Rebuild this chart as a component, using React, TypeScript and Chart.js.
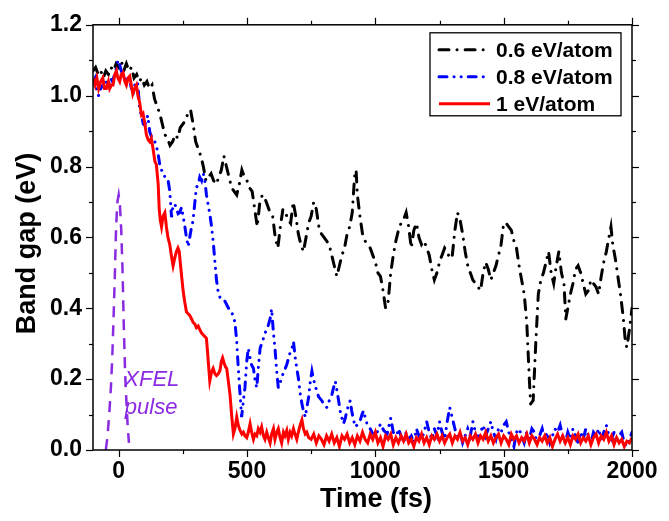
import React, { useEffect, useRef } from 'react';
import { Chart, registerables } from 'chart.js';

Chart.register(...registerables);

const xTicks = [0, 500, 1000, 1500, 2000];
const xTickLabels = ['0', '500', '1000', '1500', '2000'];
const xMinorTicks = [250, 750, 1250, 1750];
const yTicks = [0, 0.2, 0.4, 0.6, 0.8, 1.0, 1.2];
const yTickLabels = ['0.0', '0.2', '0.4', '0.6', '0.8', '1.0', '1.2'];
const yMinorTicks = [0.1, 0.3, 0.5, 0.7, 0.9, 1.1];

const xTitle = 'Time (fs)';
const yTitle = 'Band gap (eV)';
const seriesLabels = ['0.6 eV/atom', '0.8 eV/atom', '1 eV/atom'];
const pulseLabel = ['XFEL', 'pulse'];

// [time (fs), band gap (eV)]
const blackSeries = [
  [-100, 1.07], [-90, 1.08], [-80, 1.06], [-70, 1.07], [-60, 1.05], [-50, 1.07], [-40, 1.06], [-30, 1.08],
  [-20, 1.07], [-10, 1.09], [0, 1.08], [10, 1.1], [20, 1.07], [30, 1.09], [40, 1.07], [50, 1.08], [60, 1.05],
  [70, 1.06], [80, 1.04], [90, 1.05], [100, 1.03], [110, 1.04], [120, 1.02], [130, 1.03], [140, 0.99],
  [150, 0.97], [160, 0.95], [170, 0.92], [180, 0.89], [190, 0.88], [200, 0.86], [210, 0.87], [220, 0.89],
  [230, 0.88], [240, 0.91], [250, 0.92], [260, 0.93], [270, 0.95], [280, 0.96], [290, 0.92], [300, 0.87],
  [310, 0.85], [320, 0.83], [330, 0.8], [340, 0.76], [350, 0.77], [360, 0.78], [370, 0.76], [380, 0.75],
  [390, 0.77], [400, 0.79], [410, 0.83], [420, 0.8], [430, 0.77], [440, 0.74], [450, 0.73], [460, 0.72],
  [470, 0.75], [480, 0.79], [490, 0.77], [500, 0.76], [510, 0.74], [520, 0.73], [530, 0.68], [540, 0.63],
  [550, 0.7], [560, 0.72], [570, 0.71], [580, 0.69], [590, 0.67], [600, 0.66], [610, 0.6], [620, 0.57],
  [630, 0.63], [640, 0.68], [650, 0.67], [660, 0.65], [670, 0.64], [680, 0.7], [690, 0.66], [700, 0.61],
  [710, 0.58], [720, 0.56], [730, 0.6], [740, 0.64], [750, 0.66], [760, 0.7], [770, 0.68], [780, 0.63],
  [790, 0.61], [800, 0.6], [810, 0.59], [820, 0.58], [830, 0.55], [840, 0.52], [850, 0.49], [860, 0.52],
  [870, 0.55], [880, 0.57], [890, 0.61], [900, 0.63], [910, 0.67], [920, 0.78], [925, 0.79], [930, 0.72],
  [940, 0.66], [950, 0.61], [960, 0.59], [970, 0.58], [980, 0.57], [990, 0.55], [1000, 0.53], [1010, 0.5],
  [1020, 0.49], [1030, 0.45], [1040, 0.4], [1050, 0.42], [1060, 0.5], [1070, 0.55], [1080, 0.59], [1090, 0.62],
  [1100, 0.64], [1110, 0.65], [1120, 0.67], [1130, 0.63], [1140, 0.57], [1150, 0.62], [1160, 0.64], [1170, 0.6],
  [1180, 0.58], [1190, 0.59], [1200, 0.57], [1210, 0.55], [1220, 0.51], [1230, 0.48], [1240, 0.5], [1250, 0.53],
  [1260, 0.55], [1270, 0.57], [1280, 0.56], [1290, 0.54], [1300, 0.55], [1310, 0.62], [1320, 0.67], [1330, 0.65],
  [1340, 0.61], [1350, 0.56], [1360, 0.52], [1370, 0.5], [1380, 0.48], [1390, 0.47], [1400, 0.46], [1410, 0.45],
  [1420, 0.5], [1430, 0.53], [1440, 0.51], [1450, 0.48], [1460, 0.5], [1470, 0.52], [1480, 0.55], [1490, 0.58],
  [1500, 0.64], [1510, 0.64], [1520, 0.63], [1530, 0.62], [1540, 0.59], [1550, 0.57], [1560, 0.52], [1570, 0.48],
  [1580, 0.44], [1590, 0.36], [1600, 0.2], [1605, 0.13], [1615, 0.14], [1625, 0.3], [1635, 0.44], [1645, 0.48],
  [1655, 0.5], [1665, 0.53], [1675, 0.56], [1685, 0.5], [1695, 0.47], [1705, 0.52], [1715, 0.56], [1725, 0.5],
  [1735, 0.47], [1742, 0.37], [1750, 0.4], [1760, 0.44], [1770, 0.47], [1780, 0.51], [1790, 0.52], [1800, 0.5],
  [1810, 0.47], [1820, 0.44], [1830, 0.45], [1840, 0.48], [1850, 0.47], [1860, 0.46], [1870, 0.44], [1880, 0.49],
  [1890, 0.53], [1900, 0.56], [1910, 0.6], [1918, 0.63], [1925, 0.58], [1935, 0.54], [1945, 0.49], [1955, 0.44],
  [1965, 0.38], [1975, 0.3], [1980, 0.29], [1990, 0.34], [2000, 0.4],
];

const blueSeries = [
  [-100, 1.04], [-92, 1.05], [-85, 1.01], [-78, 1.0], [-70, 1.02], [-62, 1.03], [-55, 1.02], [-48, 1.04],
  [-40, 1.03], [-32, 1.05], [-24, 1.04], [-16, 1.06], [-8, 1.08], [-3, 1.1], [3, 1.09], [10, 1.07], [17, 1.06],
  [24, 1.05], [30, 1.04], [37, 1.05], [43, 1.04], [50, 1.02], [57, 1.01], [63, 1.03], [69, 1.04], [74, 1.037],
  [82, 0.963], [90, 0.94], [96, 0.92], [102, 0.917], [108, 0.93], [113, 0.944], [121, 0.898], [130, 0.88],
  [141, 0.87], [152, 0.843], [160, 0.806], [166, 0.79], [173, 0.787], [180, 0.77], [186, 0.76], [193, 0.759],
  [199, 0.731], [206, 0.657], [212, 0.69], [219, 0.694], [225, 0.68], [232, 0.667], [238, 0.67], [245, 0.685],
  [251, 0.66], [258, 0.63], [264, 0.6], [271, 0.574], [277, 0.6], [284, 0.63], [290, 0.648], [297, 0.7],
  [303, 0.741], [310, 0.75], [316, 0.77], [323, 0.76], [330, 0.78], [336, 0.759], [342, 0.72], [349, 0.69],
  [355, 0.667], [362, 0.63], [369, 0.583], [375, 0.53], [381, 0.481], [388, 0.444], [395, 0.43], [401, 0.43],
  [408, 0.426], [414, 0.42], [421, 0.41], [428, 0.4], [434, 0.398], [440, 0.39], [447, 0.375], [453, 0.361],
  [460, 0.306], [466, 0.231], [473, 0.157], [479, 0.093], [486, 0.139], [492, 0.176], [499, 0.25], [505, 0.287],
  [512, 0.26], [518, 0.24], [525, 0.231], [531, 0.2], [538, 0.176], [544, 0.23], [551, 0.287], [557, 0.3],
  [564, 0.315], [570, 0.33], [577, 0.34], [583, 0.352], [590, 0.37], [596, 0.398], [603, 0.33], [609, 0.287],
  [616, 0.22], [622, 0.176], [629, 0.19], [636, 0.204], [642, 0.22], [649, 0.23], [655, 0.241], [662, 0.26],
  [668, 0.275], [675, 0.287], [681, 0.306], [688, 0.26], [694, 0.23], [700, 0.204], [707, 0.16], [714, 0.13],
  [720, 0.11], [727, 0.093], [733, 0.12], [740, 0.148], [746, 0.19], [753, 0.222], [759, 0.2], [766, 0.18],
  [772, 0.167], [779, 0.15], [785, 0.145], [792, 0.139], [798, 0.13], [805, 0.125], [811, 0.12], [818, 0.135],
  [824, 0.145], [831, 0.157], [837, 0.175], [844, 0.194], [850, 0.17], [857, 0.139], [863, 0.11], [870, 0.09],
  [876, 0.074], [883, 0.09], [889, 0.111], [895, 0.125], [902, 0.139], [908, 0.11], [915, 0.085], [922, 0.065],
  [928, 0.07], [935, 0.075], [941, 0.083], [948, 0.1], [954, 0.111], [961, 0.09], [967, 0.075], [974, 0.065],
  [980, 0.06], [987, 0.05], [994, 0.045], [1000, 0.037], [1007, 0.05], [1013, 0.06], [1020, 0.074], [1026, 0.065],
  [1033, 0.055], [1040, 0.05], [1046, 0.046], [1060, 0.09], [1070, 0.05], [1080, 0.03], [1090, 0.06], [1100, 0.04],
  [1110, 0.02], [1120, 0.05], [1130, 0.03], [1140, 0.04], [1150, 0.02], [1160, 0.06], [1170, 0.04], [1180, 0.03],
  [1190, 0.05], [1200, 0.08], [1210, 0.05], [1220, 0.03], [1230, 0.06], [1240, 0.04], [1250, 0.08], [1260, 0.05],
  [1270, 0.03], [1280, 0.08], [1290, 0.12], [1300, 0.09], [1310, 0.06], [1320, 0.03], [1330, 0.05], [1340, 0.02],
  [1350, 0.04], [1360, 0.06], [1370, 0.04], [1380, 0.08], [1390, 0.05], [1400, 0.03], [1410, 0.05], [1420, 0.07],
  [1430, 0.04], [1440, 0.06], [1450, 0.08], [1460, 0.05], [1470, 0.03], [1480, 0.06], [1490, 0.05], [1500, 0.07],
  [1510, 0.08], [1520, 0.05], [1530, 0.03], [1540, 0.01], [1550, 0.05], [1560, 0.06], [1570, 0.04], [1580, 0.02],
  [1590, 0.05], [1600, 0.03], [1610, 0.06], [1620, 0.05], [1630, 0.02], [1640, 0.04], [1650, 0.06], [1660, 0.03],
  [1670, 0.05], [1680, 0.02], [1690, 0.04], [1700, 0.06], [1710, 0.05], [1720, 0.07], [1730, 0.04], [1740, 0.02],
  [1750, 0.05], [1760, 0.03], [1770, 0.06], [1780, 0.04], [1790, 0.02], [1800, 0.05], [1810, 0.03], [1820, 0.06],
  [1830, 0.04], [1840, 0.02], [1850, 0.05], [1860, 0.04], [1870, 0.06], [1880, 0.03], [1890, 0.05], [1900, 0.07],
  [1910, 0.04], [1920, 0.03], [1930, 0.05], [1940, 0.02], [1950, 0.04], [1960, 0.05], [1970, 0.02], [1980, 0.01],
  [1990, 0.03], [2000, 0.05],
];

const redSeries = [
  [-100, 1.05], [-92, 1.03], [-85, 1.05], [-78, 1.02], [-70, 1.04], [-62, 1.05], [-55, 1.02], [-48, 1.02],
  [-40, 1.04], [-35, 1.02], [-28, 1.03], [-22, 1.03], [-15, 1.06], [-9, 1.07], [-3, 1.05], [4, 1.04], [10, 1.06],
  [17, 1.065], [24, 1.04], [30, 1.03], [37, 1.05], [43, 1.055], [49, 1.03], [55, 1.005], [62, 1.02], [69, 1.03],
  [75, 1.0], [82, 0.98], [89, 0.945], [95, 0.95], [102, 0.92], [108, 0.89], [115, 0.875], [121, 0.87], [127, 0.88],
  [134, 0.85], [141, 0.815], [147, 0.805], [154, 0.75], [158, 0.68], [162, 0.65], [167, 0.63], [173, 0.66],
  [180, 0.67], [186, 0.63], [192, 0.6], [199, 0.58], [205, 0.55], [212, 0.52], [218, 0.54], [225, 0.56],
  [231, 0.57], [236, 0.56], [244, 0.5], [251, 0.45], [257, 0.42], [264, 0.39], [270, 0.385], [277, 0.38],
  [284, 0.37], [290, 0.36], [297, 0.355], [303, 0.345], [310, 0.35], [316, 0.34], [323, 0.33], [329, 0.325],
  [336, 0.32], [342, 0.315], [346, 0.28], [349, 0.25], [355, 0.195], [362, 0.22], [368, 0.23], [375, 0.215],
  [381, 0.21], [388, 0.215], [395, 0.225], [400, 0.25], [405, 0.26], [411, 0.245], [416, 0.235], [421, 0.23],
  [428, 0.19], [434, 0.155], [440, 0.1], [447, 0.045], [453, 0.06], [460, 0.093], [466, 0.07], [473, 0.055],
  [480, 0.045], [486, 0.05], [492, 0.04], [499, 0.035], [505, 0.05], [512, 0.074], [518, 0.05], [525, 0.03],
  [531, 0.045], [538, 0.04], [544, 0.06], [551, 0.05], [557, 0.065], [564, 0.04], [570, 0.03], [577, 0.05],
  [583, 0.035], [590, 0.02], [596, 0.045], [603, 0.06], [609, 0.03], [616, 0.05], [622, 0.06], [629, 0.035],
  [635, 0.02], [642, 0.05], [648, 0.04], [655, 0.055], [661, 0.03], [668, 0.05], [674, 0.04], [681, 0.06],
  [687, 0.045], [694, 0.03], [700, 0.05], [707, 0.07], [714, 0.085], [720, 0.06], [727, 0.045], [733, 0.05],
  [740, 0.035], [750, 0.03], [760, 0.045], [770, 0.02], [780, 0.04], [790, 0.03], [800, 0.015], [810, 0.04],
  [820, 0.025], [830, 0.045], [840, 0.02], [850, 0.035], [860, 0.01], [870, 0.04], [880, 0.03], [890, 0.045],
  [900, 0.02], [910, 0.035], [920, 0.015], [930, 0.04], [940, 0.025], [950, 0.05], [960, 0.03], [970, 0.02],
  [980, 0.045], [990, 0.03], [1000, 0.05], [1010, 0.02], [1020, 0.035], [1030, 0.01], [1040, 0.04], [1050, 0.03],
  [1060, 0.045], [1070, 0.015], [1080, 0.035], [1090, 0.02], [1100, 0.04], [1110, 0.025], [1120, 0.045],
  [1130, 0.02], [1140, 0.03], [1150, 0.01], [1160, 0.035], [1170, 0.025], [1180, 0.045], [1190, 0.02],
  [1200, 0.035], [1210, 0.015], [1220, 0.04], [1230, 0.03], [1240, 0.045], [1250, 0.025], [1260, 0.04],
  [1270, 0.02], [1280, 0.035], [1290, 0.045], [1300, 0.02], [1310, 0.04], [1320, 0.03], [1330, 0.05],
  [1340, 0.025], [1350, 0.035], [1360, 0.015], [1370, 0.04], [1380, 0.03], [1390, 0.045], [1400, 0.02],
  [1410, 0.04], [1420, 0.03], [1430, 0.05], [1440, 0.025], [1450, 0.04], [1460, 0.02], [1470, 0.035],
  [1480, 0.045], [1490, 0.02], [1500, 0.04], [1510, 0.03], [1520, 0.015], [1530, 0.045], [1540, 0.03],
  [1550, 0.04], [1560, 0.02], [1570, 0.035], [1580, 0.025], [1590, 0.045], [1600, 0.02], [1610, 0.04],
  [1620, 0.03], [1630, 0.015], [1640, 0.035], [1650, 0.025], [1660, 0.04], [1670, 0.02], [1680, 0.035],
  [1690, 0.01], [1700, 0.03], [1710, 0.045], [1720, 0.025], [1730, 0.04], [1740, 0.02], [1750, 0.035],
  [1760, 0.015], [1770, 0.04], [1780, 0.03], [1790, 0.045], [1800, 0.02], [1810, 0.035], [1820, 0.025],
  [1830, 0.04], [1840, 0.015], [1850, 0.035], [1860, 0.045], [1870, 0.02], [1880, 0.04], [1890, 0.03],
  [1900, 0.05], [1910, 0.025], [1920, 0.04], [1930, 0.015], [1940, 0.035], [1950, 0.02], [1960, 0.03],
  [1970, 0.01], [1980, 0.025], [1990, 0.02], [2000, 0.035],
];

const pulseSeries = [
  [-50, 0], [-45, 0.03], [-40, 0.07], [-35, 0.12], [-30, 0.18], [-25, 0.26], [-20, 0.37], [-15, 0.49],
  [-10, 0.63], [-5, 0.7], [0, 0.72], [5, 0.69], [10, 0.62], [15, 0.51], [20, 0.35], [25, 0.22], [30, 0.14],
  [35, 0.07], [40, 0.02],
];

const FONT = '"Liberation Sans", Arial, sans-serif';
const PURPLE = '#8a2be2';

const toXY = (s: number[][]) => s.map(([x, y]) => ({ x, y }));

const decorPlugin = {
  id: 'decor',
  afterDatasetsDraw(chart: any) {
    const { ctx, chartArea: a, scales } = chart;
    const xs = scales.x;
    const ys = scales.y;
    ctx.save();
    ctx.strokeStyle = '#000';
    ctx.lineWidth = 1.5;
    ctx.setLineDash([]);
    ctx.strokeRect(a.left, a.top, a.right - a.left, a.bottom - a.top);
    ctx.lineWidth = 1.2;
    const seg = (x1: number, y1: number, x2: number, y2: number) => {
      ctx.beginPath();
      ctx.moveTo(x1, y1);
      ctx.lineTo(x2, y2);
      ctx.stroke();
    };
    const drawX = (vals: number[], len: number) =>
      vals.forEach((v) => {
        const p = Math.round(xs.getPixelForValue(v)) + 0.5;
        seg(p, a.bottom, p, a.bottom + len);
        seg(p, a.top, p, a.top - len);
      });
    const drawY = (vals: number[], len: number) =>
      vals.forEach((v) => {
        const p = Math.round(ys.getPixelForValue(v)) + 0.5;
        seg(a.left - len, p, a.left, p);
        seg(a.right, p, a.right + len, p);
      });
    drawX(xTicks, 7);
    drawX(xMinorTicks, 4);
    drawY(yTicks, 7);
    drawY(yMinorTicks, 4);

    // axis titles
    ctx.fillStyle = '#000';
    ctx.font = `bold 27px ${FONT}`;
    ctx.textAlign = 'center';
    ctx.textBaseline = 'middle';
    ctx.fillText(xTitle, a.left + 283, a.bottom + 50);
    ctx.save();
    ctx.translate(28, (a.top + a.bottom) / 2 + 6);
    ctx.rotate(-Math.PI / 2);
    ctx.fillText(yTitle, 0, 0);
    ctx.restore();

    // legend
    const bw = 191;
    const bh = 83;
    const bx = a.right - 202;
    const by = a.top + 8;
    ctx.fillStyle = '#fff';
    ctx.fillRect(bx, by, bw, bh);
    ctx.lineWidth = 1.3;
    ctx.strokeStyle = '#000';
    ctx.strokeRect(bx, by, bw, bh);
    const order = seriesLabels.map((l) => chart.data.datasets.find((d: any) => d.label === l));
    order.forEach((ds: any, i: number) => {
      const y = by + 17 + i * 27;
      ctx.strokeStyle = ds.borderColor;
      ctx.lineWidth = ds.borderWidth;
      ctx.lineCap = ds.borderCapStyle || 'butt';
      ctx.setLineDash(ds.borderDash || []);
      seg(bx + 9, y, bx + 60, y);
      ctx.setLineDash([]);
      ctx.fillStyle = '#000';
      ctx.font = `bold 21px ${FONT}`;
      ctx.textAlign = 'left';
      ctx.textBaseline = 'middle';
      ctx.fillText(ds.label, bx + 66, y + 1);
    });

    // XFEL pulse annotation
    ctx.fillStyle = PURPLE;
    ctx.font = `italic 22px ${FONT}`;
    ctx.textAlign = 'left';
    ctx.textBaseline = 'middle';
    ctx.fillText(pulseLabel[0], xs.getPixelForValue(22), ys.getPixelForValue(0.197));
    ctx.fillText(pulseLabel[1], xs.getPixelForValue(24), ys.getPixelForValue(0.12));
    ctx.restore();
  },
};

export default function App() {
  const ref = useRef<HTMLCanvasElement>(null);
  useEffect(() => {
    if (!ref.current) return;
    Chart.defaults.font.family = FONT;
    const chart = new Chart(ref.current, {
      type: 'line',
      data: {
        datasets: [
          {
            label: seriesLabels[2],
            data: toXY(redSeries),
            borderColor: '#ff0000',
            borderWidth: 3,
            order: 0,
          },
          {
            label: seriesLabels[1],
            data: toXY(blueSeries),
            borderColor: '#0000ff',
            borderWidth: 3,
            borderDash: [8, 7, 0.1, 7, 0.1, 7],
            borderCapStyle: 'round',
            order: 1,
          },
          {
            label: seriesLabels[0],
            data: toXY(blackSeries),
            borderColor: '#000000',
            borderWidth: 3,
            borderDash: [10, 8, 0.1, 8],
            borderCapStyle: 'round',
            order: 2,
          },
          {
            label: 'XFEL pulse',
            data: toXY(pulseSeries),
            borderColor: PURPLE,
            borderWidth: 2.5,
            borderDash: [11, 8],
            order: 3,
          },
        ] as any,
      },
      options: {
        animation: false,
        responsive: false,
        layout: { padding: { top: 18, right: 37, left: 0, bottom: 0 } },
        elements: { point: { radius: 0 }, line: { tension: 0 } },
        plugins: { legend: { display: false }, tooltip: { enabled: false } },
        scales: {
          x: {
            type: 'linear',
            min: -100,
            max: 2000,
            grid: { display: false, drawTicks: false },
            border: { display: false },
            afterBuildTicks: (s: any) => {
              s.ticks = xTicks.map((v) => ({ value: v }));
            },
            afterFit: (s: any) => {
              s.height = 71;
            },
            ticks: {
              padding: 8,
              color: '#000',
              font: { size: 23, weight: 'bold' },
              maxRotation: 0,
              autoSkip: false,
              callback: (_v: any, i: number) => xTickLabels[i],
            },
            title: { display: false },
          },
          y: {
            type: 'linear',
            min: 0,
            max: 1.2,
            grid: { display: false, drawTicks: false },
            border: { display: false },
            afterBuildTicks: (s: any) => {
              s.ticks = yTicks.map((v) => ({ value: v }));
            },
            afterFit: (s: any) => {
              s.width = 93;
            },
            ticks: {
              padding: 11,
              color: '#000',
              font: { size: 23, weight: 'bold' },
              autoSkip: false,
              callback: (_v: any, i: number) => yTickLabels[i],
            },
            title: { display: false },
          },
        },
      } as any,
      plugins: [decorPlugin],
    });
    return () => chart.destroy();
  }, []);
  return (
    <div style={{ position: 'absolute', left: 0, top: 0, width: 669, height: 521, background: '#fff' }}>
      <canvas ref={ref} width={669} height={521} style={{ display: 'block' }} />
    </div>
  );
}
